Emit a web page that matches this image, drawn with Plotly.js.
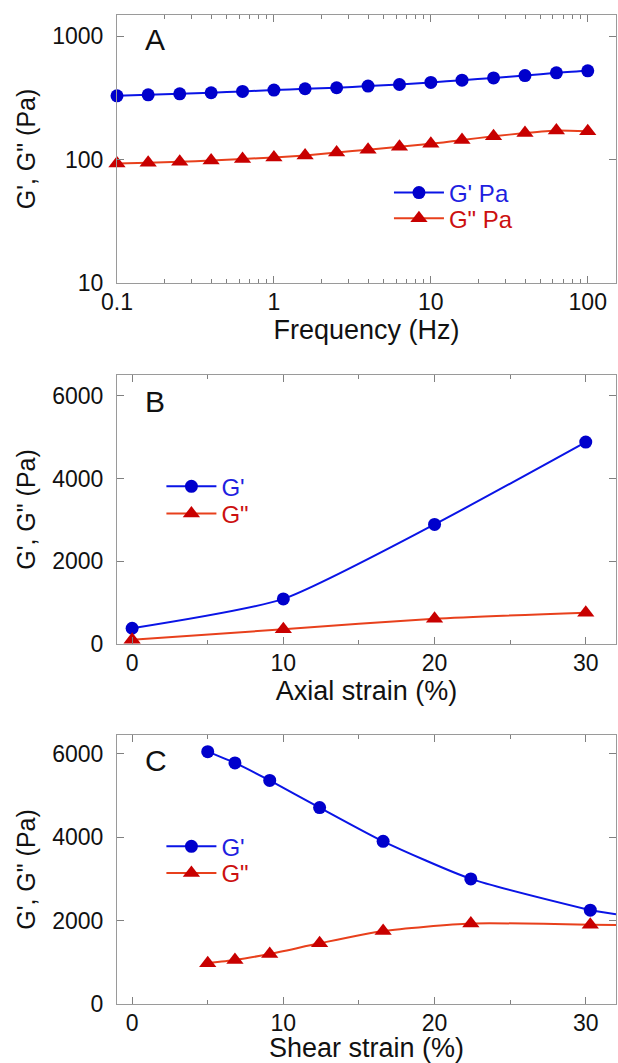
<!DOCTYPE html>
<html>
<head>
<meta charset="utf-8">
<script src="https://cdn.plot.ly/plotly-3.0.1.min.js"></script>
<style>
html,body{margin:0;padding:0;background:#fff;}
#chart{width:618px;height:1063px;}
</style>
</head>
<body>
<div id="chart"></div>
<script>
// ---- Panel A: frequency sweep ----
const freqHz = [0.1, 0.158, 0.251, 0.398, 0.631, 1, 1.58, 2.51, 3.98, 6.31, 10, 15.8, 25.1, 39.8, 63.1, 100];
const freqGp = [328, 334, 340, 347, 356, 365, 374, 381, 393, 405, 421, 439, 458, 478, 503, 522];
const freqGpp = [93, 94, 96, 98, 101, 104, 108, 114, 120, 127, 134, 144, 154, 164, 172, 169];
const freqTicks = [0.1, 1, 10, 100];
const freqTickText = ['0.1', '1', '10', '100'];
const modLogTicks = [10, 100, 1000];
const modLogTickText = ['10', '100', '1000'];

// ---- Panel B: axial strain ----
const axialStrain = [0, 10, 20, 30];
const axialGp = [380, 1090, 2890, 4880];
const axialGpp = [100, 355, 610, 757];

// ---- Panel C: shear strain ----
const shearStrain = [5, 6.8, 9.1, 12.4, 16.6, 22.4, 30.3];
const shearGp = [6050, 5780, 5360, 4710, 3900, 3000, 2250];
const shearGpp = [980, 1055, 1200, 1455, 1750, 1930, 1900];
// fitted curve continues past the last point to the plot edge
const shearTailX = [30.3, 32];
const shearTailGp = [2250, 2150];
const shearTailGpp = [1900, 1895];

const strainTicks = [0, 10, 20, 30];
const strainMinor = [5, 15, 25];
const modTicks = [0, 2000, 4000, 6000];

const BLUE_LINE = '#0a14e6', BLUE_MK = '#0000cc', BLUE_TXT = '#1f1fe0';
const RED_LINE = '#e8401c', RED_MK = '#c80000', RED_TXT = '#cc1010';
const FONT = 'Liberation Sans, Arial, sans-serif';

function gp(x, y, xa, ya, lg, label) {
  return {x: x, y: y, xaxis: xa, yaxis: ya, legend: lg, mode: 'lines+markers',
    name: '<span style="color:' + BLUE_TXT + '">' + label + '</span>',
    line: {color: BLUE_LINE, width: 2, shape: 'spline', smoothing: 0.6},
    marker: {symbol: 'circle', size: 13, color: BLUE_MK}, cliponaxis: false};
}
function gpp(x, y, xa, ya, lg, label) {
  return {x: x, y: y, xaxis: xa, yaxis: ya, legend: lg, mode: 'lines+markers',
    name: '<span style="color:' + RED_TXT + '">' + label + '</span>',
    line: {color: RED_LINE, width: 2, shape: 'spline', smoothing: 0.6},
    marker: {symbol: 'triangle-up', size: 15, color: RED_MK}, cliponaxis: false};
}

const traces = [
  {x: shearTailX, y: shearTailGp, xaxis: 'x3', yaxis: 'y3', mode: 'lines', showlegend: false,
   line: {color: BLUE_LINE, width: 2}},
  {x: shearTailX, y: shearTailGpp, xaxis: 'x3', yaxis: 'y3', mode: 'lines', showlegend: false,
   line: {color: RED_LINE, width: 2}},
  gp(freqHz, freqGp, 'x', 'y', 'legend', "G' Pa"),
  gpp(freqHz, freqGpp, 'x', 'y', 'legend2', 'G" Pa'),
  gp(axialStrain, axialGp, 'x2', 'y2', 'legend3', "G'"),
  gpp(axialStrain, axialGpp, 'x2', 'y2', 'legend4', 'G"'),
  gp(shearStrain, shearGp, 'x3', 'y3', 'legend5', "G'"),
  gpp(shearStrain, shearGpp, 'x3', 'y3', 'legend6', 'G"')
];

const axBase = {
  showline: true, linecolor: '#9a9a9a', linewidth: 1, mirror: 'ticks',
  ticks: 'inside', ticklen: 7, tickwidth: 1, tickcolor: '#808080',
  showgrid: false, zeroline: false,
  tickfont: {family: FONT, size: 23, color: '#111'}
};
function xax(extra) {
  return Object.assign({}, axBase, {ticklabelstandoff: -2,
    title: {text: extra.titleText, font: {family: FONT, size: 27, color: '#111'}, standoff: 4}}, extra.o);
}
function yax(extra) {
  return Object.assign({}, axBase, {ticklabelstandoff: 8,
    title: {text: "G', G\" (Pa)", font: {family: FONT, size: 25, color: '#111'}, standoff: 9}}, extra.o);
}

const legBase = {bgcolor: 'rgba(0,0,0,0)', borderwidth: 0, font: {family: FONT, size: 24},
  xanchor: 'left', yanchor: 'middle', tracegroupgap: 0, itemwidth: 50};
function leg(x, y) { return Object.assign({}, legBase, {x: x, y: y}); }

const minorStrain = {ticks: 'inside', ticklen: 4, tickcolor: '#808080', tickmode: 'array', tickvals: strainMinor, showgrid: false};

const layout = {
  width: 618, height: 1063,
  margin: {l: 117, r: 2, t: 15, b: 59},
  paper_bgcolor: '#fff', plot_bgcolor: '#fff',
  font: {family: FONT, color: '#111'},
  xaxis: xax({titleText: 'Frequency (Hz)', o: {type: 'log', range: [-1, 2.18], anchor: 'y',
    tickmode: 'array', tickvals: freqTicks, ticktext: freqTickText,
    minor: {ticks: 'inside', ticklen: 4, tickcolor: '#808080', dtick: 'D1', showgrid: false}}}),
  yaxis: yax({o: {type: 'log', range: [1, 3.17], domain: [0.729, 1], anchor: 'x',
    tickmode: 'array', tickvals: modLogTicks, ticktext: modLogTickText}}),
  xaxis2: xax({titleText: 'Axial strain (%)', o: {range: [-1, 32], anchor: 'y2',
    tickmode: 'array', tickvals: strainTicks, minor: minorStrain}}),
  yaxis2: yax({o: {range: [0, 6500], domain: [0.364, 0.636], anchor: 'x2',
    tickmode: 'array', tickvals: modTicks}}),
  xaxis3: xax({titleText: 'Shear strain (%)', o: {range: [-1, 32], anchor: 'y3',
    tickmode: 'array', tickvals: strainTicks, minor: minorStrain}}),
  yaxis3: yax({o: {range: [0, 6450], domain: [0, 0.272], anchor: 'x3',
    tickmode: 'array', tickvals: modTicks}}),
  legend: leg(0.545, 0.820),
  legend2: leg(0.545, 0.794),
  legend3: leg(0.089, 0.523),
  legend4: leg(0.089, 0.4955),
  legend5: leg(0.089, 0.159),
  legend6: leg(0.089, 0.132),
  annotations: [
    {text: 'A', xref: 'x domain', yref: 'y domain', x: 0.052, y: 0.91, xanchor: 'left', yanchor: 'middle',
     showarrow: false, font: {family: FONT, size: 30, color: '#111'}},
    {text: 'B', xref: 'x2 domain', yref: 'y2 domain', x: 0.052, y: 0.9, xanchor: 'left', yanchor: 'middle',
     showarrow: false, font: {family: FONT, size: 30, color: '#111'}},
    {text: 'C', xref: 'x3 domain', yref: 'y3 domain', x: 0.052, y: 0.905, xanchor: 'left', yanchor: 'middle',
     showarrow: false, font: {family: FONT, size: 30, color: '#111'}}
  ]
};

Plotly.newPlot('chart', traces, layout, {displayModeBar: false, staticPlot: true});
</script>
</body>
</html>
